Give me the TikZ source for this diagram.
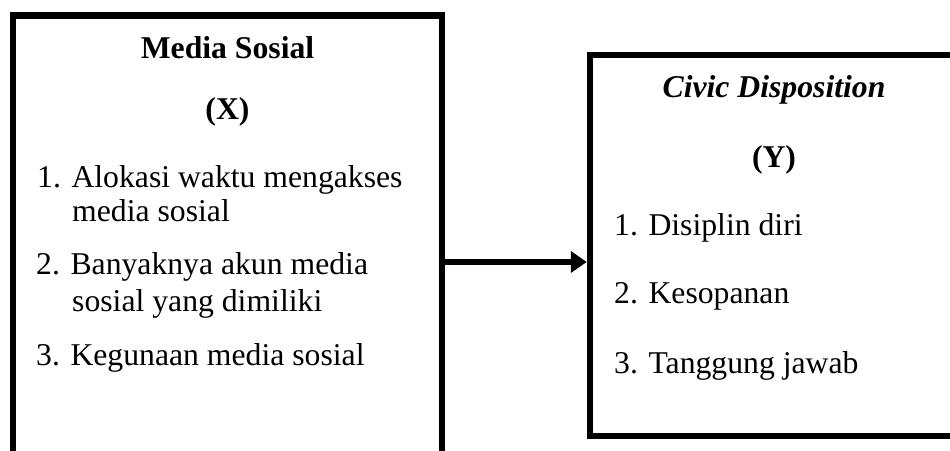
\documentclass[tikz,border=0pt]{standalone}
\usepackage{fontspec}
\setmainfont{Liberation Serif}
\usetikzlibrary{arrows.meta}
\tikzset{
  box/.style={draw=black, line width=6.5pt, fill=none, inner sep=0pt},
  txt/.style={inner sep=0pt, font=\fontsize{31.7}{36}\selectfont},
  lefttxt/.style={txt, anchor=base west},
  midtxt/.style={txt, anchor=base},
  conn/.style={line width=6pt, -{Triangle[length=16pt,width=21pt]}}
}
\begin{document}
\begin{tikzpicture}[x=1pt,y=-1pt]
\path[use as bounding box, clip] (0,0) rectangle (950,450);
\fill[white] (0,0) rectangle (950,450);
% boxes
\node[box, minimum width=429pt, minimum height=493pt] (L) at (227.5,262) {};
\node[box, minimum width=368pt, minimum height=381pt] (R) at (774,245.5) {};
% left texts
\node[midtxt] (lt1) at (227.5,58) {\textbf{Media Sosial}};
\node[midtxt] (lt2) at (227.5,119) {\textbf{(X)}};
\node[lefttxt] (l1a) at (37,187) {1. Alokasi waktu mengakses};
\node[lefttxt] (l1b) at (72,221) {media sosial};
\node[lefttxt] (l2a) at (36,274) {2. Banyaknya akun media};
\node[lefttxt] (l2b) at (72,311) {sosial yang dimiliki};
\node[lefttxt] (l3) at (36,365) {3. Kegunaan media sosial};
% right texts
\node[midtxt] (rt1) at (774,97) {\textbf{\textit{Civic Disposition}}};
\node[midtxt] (rt2) at (774,167) {\textbf{(Y)}};
\node[lefttxt] (r1) at (614,235) {1. Disiplin diri};
\node[lefttxt] (r2) at (614,303) {2. Kesopanan};
\node[lefttxt] (r3) at (614,373) {3. Tanggung jawab};
% connector
\draw[conn] (L.east) -- (R.west |- L.east);
\end{tikzpicture}
\end{document}
